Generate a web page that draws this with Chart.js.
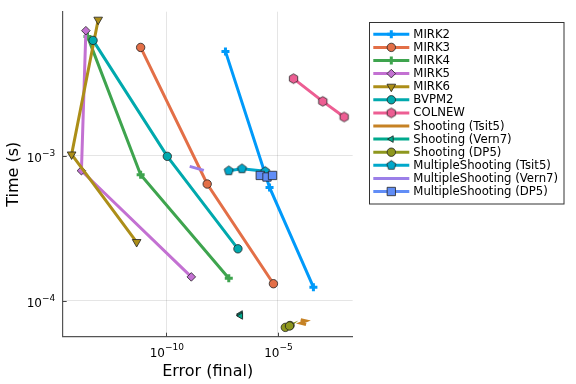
<!DOCTYPE html>
<html><head><meta charset="utf-8">
<script src="https://cdn.jsdelivr.net/npm/chart.js@4/dist/chart.umd.min.js"></script>
<style>html,body{margin:0;padding:0;background:#fff}canvas{display:block}</style>
</head><body>
<canvas id="c" width="576" height="384"></canvas>
<script>
// ---------- data ----------
const seriesNames = ['MIRK2','MIRK3','MIRK4','MIRK5','MIRK6','BVPM2','COLNEW',
  'Shooting (Tsit5)','Shooting (Vern7)','Shooting (DP5)',
  'MultipleShooting (Tsit5)','MultipleShooting (Vern7)','MultipleShooting (DP5)'];

const mirk2Err = [4.47e-8, 4.22e-6, 3.89e-4];
const mirk2Time = [5.24e-3, 6.04e-4, 1.24e-4];
const mirk3Err = [7.1e-12, 6.8e-9, 6.3e-6];
const mirk3Time = [5.58e-3, 6.38e-4, 1.31e-4];
const mirk4Err = [2.95e-14, 7.1e-12, 6.3e-8];
const mirk4Time = [6.65e-3, 7.4e-4, 1.43e-4];
const mirk5Err = [2.5e-14, 1.58e-14, 1.32e-9];
const mirk5Time = [7.28e-3, 7.88e-4, 1.46e-4];
const mirk6Err = [8.9e-14, 5.75e-15, 4.7e-12];
const mirk6Time = [8.67e-3, 1.02e-3, 2.54e-4];
const bvpm2Err = [5.25e-14, 1.11e-10, 1.62e-7];
const bvpm2Time = [6.24e-3, 9.9e-4, 2.28e-4];
const colnewErr = [5.0e-5, 1.02e-3, 9.3e-3];
const colnewTime = [3.40e-3, 2.37e-3, 1.85e-3];
const shootTsit5Err = [1.05e-4, 1.82e-4, 1.05e-4, 1.82e-4];
const shootTsit5Time = [7.4e-5, 7.25e-5, 7.0e-5, 6.85e-5];
const shootVern7Err = [2.1e-7, 2.0e-7, 2.15e-7];
const shootVern7Time = [8.1e-5, 7.95e-5, 7.85e-5];
const shootDP5Err = [2.15e-5, 3.5e-5, 3.3e-5];
const shootDP5Time = [6.55e-5, 6.75e-5, 6.7e-5];
const mshootTsit5Err = [6.3e-8, 2.45e-7, 2.7e-6];
const mshootTsit5Time = [7.88e-4, 8.13e-4, 7.8e-4];
const mshootVern7Err = [1.12e-9, 4.8e-9];
const mshootVern7Time = [8.44e-4, 7.92e-4];
const mshootDP5Err = [1.62e-6, 3.24e-6, 5.75e-6];
const mshootDP5Time = [7.31e-4, 7.13e-4, 7.31e-4];

const xTickValues = [1e-10, 1e-5];
const xTickBase = ['10', '10'];
const xTickExp = ['\u221210', '\u22125'];
const yTickValues = [1e-4, 1e-3];
const yTickBase = ['10', '10'];
const yTickExp = ['\u22124', '\u22123'];

const allErr = [mirk2Err, mirk3Err, mirk4Err, mirk5Err, mirk6Err, bvpm2Err, colnewErr,
  shootTsit5Err, shootVern7Err, shootDP5Err, mshootTsit5Err, mshootVern7Err, mshootDP5Err];
const allTime = [mirk2Time, mirk3Time, mirk4Time, mirk5Time, mirk6Time, bvpm2Time, colnewTime,
  shootTsit5Time, shootVern7Time, shootDP5Time, mshootTsit5Time, mshootVern7Time, mshootDP5Time];

// ---------- styles ----------
const colors = ['#009AFA','#E36F47','#3EA44E','#C371D2','#AC8E18','#00A9AD','#ED5E93',
  '#C68225','#00A98D','#8E971E','#00A8CB','#9B7FE8','#618DF6'];
const FONT = "'DejaVu Sans', sans-serif";
const EDGE = '#222';

function polyCanvas(n, r, fill, rot) {
  const s = Math.ceil(2 * r + 3);
  const c = document.createElement('canvas'); c.width = s; c.height = s;
  const g = c.getContext('2d');
  g.beginPath();
  for (let i = 0; i < n; i++) {
    const a = rot + i * 2 * Math.PI / n;
    const px = s / 2 + r * Math.cos(a), py = s / 2 + r * Math.sin(a);
    i ? g.lineTo(px, py) : g.moveTo(px, py);
  }
  g.closePath(); g.fillStyle = fill; g.fill();
  g.lineWidth = 0.8; g.strokeStyle = EDGE; g.stroke();
  return c;
}
const hexImg = polyCanvas(6, 4.8, colors[6], -Math.PI / 2);
const pentImg = polyCanvas(5, 4.8, colors[10], -Math.PI / 2);

const markers = [
  {style: 'cross', r: 4, rot: 0, bw: 3, edge: colors[0]},
  {style: 'circle', r: 4.2, rot: 0, bw: 0.8, edge: EDGE},
  {style: 'cross', r: 4, rot: 0, bw: 3, edge: colors[2]},
  {style: 'rectRot', r: 4.3, rot: 0, bw: 0.8, edge: EDGE},
  {style: 'triangle', r: 5, rot: 180, bw: 0.8, edge: EDGE},
  {style: 'circle', r: 4.2, rot: 0, bw: 0.8, edge: EDGE},
  {style: hexImg, r: 4, rot: 0, bw: 0.8, edge: EDGE},
  null,
  {style: 'triangle', r: 3.8, rot: 270, bw: 0.8, edge: EDGE},
  {style: 'circle', r: 4.2, rot: 0, bw: 0.8, edge: EDGE},
  {style: pentImg, r: 4, rot: 0, bw: 0.8, edge: EDGE},
  null,
  {style: 'rect', r: 5.9, rot: 0, bw: 0.8, edge: EDGE}
];

const datasets = seriesNames.map((name, i) => {
  const m = markers[i];
  return {
    label: name,
    data: allErr[i].map((x, k) => ({x: x, y: allTime[i][k]})),
    showLine: true,
    borderColor: colors[i],
    backgroundColor: colors[i],
    borderWidth: 3,
    pointStyle: m ? m.style : 'circle',
    pointRadius: m ? m.r : 0,
    pointHoverRadius: m ? m.r : 0,
    pointRotation: m ? m.rot : 0,
    pointBackgroundColor: colors[i],
    pointBorderColor: m ? m.edge : colors[i],
    pointBorderWidth: m ? m.bw : 0,
    order: -i,
    clip: false
  };
});

function drawPow(ctx, base, exp, x, y, align) {
  ctx.font = '12px ' + FONT;
  const wb = ctx.measureText(base).width;
  ctx.font = '9px ' + FONT;
  const we = ctx.measureText(exp).width;
  const total = wb + we;
  let x0 = align === 'center' ? x - total / 2 : x - total;
  ctx.textAlign = 'left'; ctx.textBaseline = 'alphabetic'; ctx.fillStyle = '#000';
  ctx.font = '12px ' + FONT; ctx.fillText(base, x0, y);
  ctx.font = '9px ' + FONT; ctx.fillText(exp, x0 + wb, y - 6.5);
}

const extras = {
  id: 'extras',
  afterDraw(chart) {
    const ctx = chart.ctx, a = chart.chartArea;
    const xs = chart.scales.x, ys = chart.scales.y;
    ctx.save();
    ctx.strokeStyle = '#444'; ctx.lineWidth = 1;
    xTickValues.forEach((v, k) => {
      const px = Math.round(xs.getPixelForValue(v)) + 0.5;
      ctx.beginPath(); ctx.moveTo(px, a.bottom); ctx.lineTo(px, a.bottom - 4); ctx.stroke();
      drawPow(ctx, xTickBase[k], xTickExp[k], xs.getPixelForValue(v) + 0.5, a.bottom + 20, 'center');
    });
    yTickValues.forEach((v, k) => {
      const py = Math.round(ys.getPixelForValue(v)) + 0.5;
      ctx.beginPath(); ctx.moveTo(a.left, py); ctx.lineTo(a.left + 4, py); ctx.stroke();
      drawPow(ctx, yTickBase[k], yTickExp[k], a.left - 7.5, ys.getPixelForValue(v) + 6.3, 'right');
    });
    // legend
    const bx = 369.5, by = 22.5, bw = 194.5, bh = 181.5;
    ctx.fillStyle = '#fff'; ctx.fillRect(bx, by, bw, bh);
    ctx.strokeStyle = '#333'; ctx.lineWidth = 1; ctx.strokeRect(bx, by, bw, bh);
    ctx.font = '11.7px ' + FONT; ctx.textBaseline = 'middle'; ctx.textAlign = 'left';
    seriesNames.forEach((name, i) => {
      const y = 34.3 + 13.1 * i;
      ctx.strokeStyle = colors[i]; ctx.lineWidth = 3;
      ctx.beginPath(); ctx.moveTo(373.3, y); ctx.lineTo(409.3, y); ctx.stroke();
      const m = markers[i];
      if (m) {
        ctx.fillStyle = colors[i]; ctx.strokeStyle = m.edge; ctx.lineWidth = m.bw;
        Chart.helpers.drawPoint(ctx, {pointStyle: m.style, radius: m.r, rotation: m.rot, borderWidth: m.bw}, 391.3, y);
      }
      ctx.fillStyle = '#000';
      ctx.font = '11.7px ' + FONT; ctx.textBaseline = 'middle'; ctx.textAlign = 'left';
      ctx.fillText(name, 413.3, y + 0.5);
    });
    ctx.restore();
  }
};

new Chart(document.getElementById('c'), {
  type: 'scatter',
  data: {datasets},
  plugins: [extras],
  options: {
    responsive: false,
    animation: false,
    devicePixelRatio: 1,
    layout: {padding: {left: 0, top: 11.7, right: 576 - 352.7, bottom: 0}},
    plugins: {legend: {display: false}, tooltip: {enabled: false}},
    scales: {
      x: {
        type: 'logarithmic',
        min: Math.pow(10, -14.64),
        max: Math.pow(10, -1.65),
        afterBuildTicks: s => { s.ticks = xTickValues.map(v => ({value: v})); },
        afterFit: s => { s.height = 384 - 336.7; },
        ticks: {display: false, autoSkip: false},
        grid: {color: 'rgba(0,0,0,0.1)', lineWidth: 1, drawTicks: false},
        border: {display: true, color: '#555', width: 1.2},
        title: {display: true, text: 'Error (final)', color: '#000',
          font: {family: FONT, size: 16}, padding: {top: 0, bottom: 2.4}}
      },
      y: {
        type: 'logarithmic',
        min: Math.pow(10, -4.248),
        max: Math.pow(10, -2.007),
        afterBuildTicks: s => { s.ticks = yTickValues.map(v => ({value: v})); },
        afterFit: s => { s.width = 62.7; },
        ticks: {display: false, autoSkip: false},
        grid: {color: 'rgba(0,0,0,0.1)', lineWidth: 1, drawTicks: false},
        border: {display: true, color: '#555', width: 1.2},
        title: {display: true, text: 'Time (s)', color: '#000',
          font: {family: FONT, size: 16}, padding: {top: 4.4, bottom: 0}}
      }
    }
  }
});
</script>
</body></html>
